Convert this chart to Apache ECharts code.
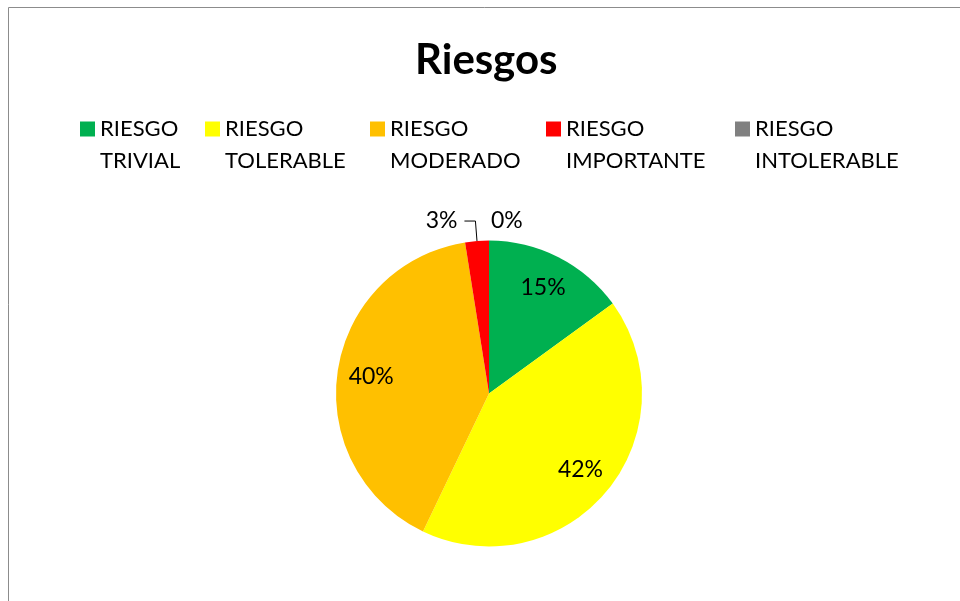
<!DOCTYPE html>
<html>
<head>
<meta charset="utf-8">
<script src="https://cdn.jsdelivr.net/npm/echarts@6/dist/echarts.min.js"></script>
<style>
html,body{margin:0;padding:0;background:#fff;}
#chart{width:960px;height:601px;}
</style>
</head>
<body>
<div id="chart"></div>
<script>
// Data
const titleText = 'Riesgos';
const categories = ['RIESGO\nTRIVIAL', 'RIESGO\nTOLERABLE', 'RIESGO\nMODERADO', 'RIESGO\nIMPORTANTE', 'RIESGO\nINTOLERABLE'];
const values = [15.0, 42.1, 40.4, 2.5, 0];
const colors = ['#00B050', '#FFFF00', '#FFC000', '#FF0000', '#808080'];
const insideLabel = [true, true, true, false, false];

const FONT = 'Lato, "Open Sans", sans-serif';
const legendLeft = [80, 205, 370, 546, 735];

const chart = echarts.init(document.getElementById('chart'));

const legends = categories.map((name, i) => ({
  data: [name],
  left: legendLeft[i],
  top: 81,
  padding: 0,
  orient: 'horizontal',
  itemWidth: 15,
  itemHeight: 15,
  icon: 'rect',
  selectedMode: false,
  formatter: n => ' \n' + n,
  textStyle: {
    fontFamily: FONT,
    fontSize: 22,
    color: '#000',
    lineHeight: 32
  }
}));

const mainData = categories.map((name, i) => {
  const d = {
    name: name,
    value: values[i],
    itemStyle: { color: colors[i] }
  };
  if (insideLabel[i]) {
    d.label = { show: false };
    d.labelLine = { show: false };
  } else if (values[i] === 0) {
    d.label = { show: true, position: 'outside', distanceToLabelLine: 2 };
    d.labelLine = { show: false, length: 20, length2: 0 };
  } else {
    d.label = { show: true, position: 'outside', distanceToLabelLine: 7 };
    d.labelLine = { show: true, length: 20, length2: 11 };
  }
  return d;
});

const labelData = categories.map((name, i) => ({
  name: name,
  value: values[i],
  itemStyle: { color: 'rgba(0,0,0,0)' },
  label: { show: insideLabel[i] }
}));

chart.setOption({
  animation: false,
  backgroundColor: '#fff',
  title: {
    text: titleText,
    left: 410,
    top: 34,
    padding: 5,
    textStyle: { fontFamily: FONT, fontSize: 42, fontWeight: 'bold', color: '#000' }
  },
  legend: legends,
  graphic: [{
    type: 'rect',
    shape: { x: 8.5, y: 7.5, width: 2000, height: 2000 },
    style: { fill: 'none', stroke: '#8c8c8c', lineWidth: 1 },
    silent: true,
    z: 100
  }],
  series: [
    {
      type: 'pie',
      center: [489, 393.5],
      radius: [0, 153],
      startAngle: 90,
      clockwise: true,
      avoidLabelOverlap: false,
      minShowLabelAngle: -1,
      percentPrecision: 0,
      emphasis: { disabled: true },
      label: {
        formatter: '{d}%',
        fontFamily: FONT,
        fontSize: 23,
        color: '#000'
      },
      labelLine: { lineStyle: { color: '#000', width: 1 } },
      data: mainData
    },
    {
      type: 'pie',
      center: [489, 393.5],
      radius: [79, 153],
      startAngle: 90,
      clockwise: true,
      silent: true,
      avoidLabelOverlap: false,
      percentPrecision: 0,
      emphasis: { disabled: true },
      label: {
        position: 'inside',
        formatter: '{d}%',
        fontFamily: FONT,
        fontSize: 23,
        color: '#000'
      },
      labelLine: { show: false },
      data: labelData
    }
  ]
});
</script>
</body>
</html>
